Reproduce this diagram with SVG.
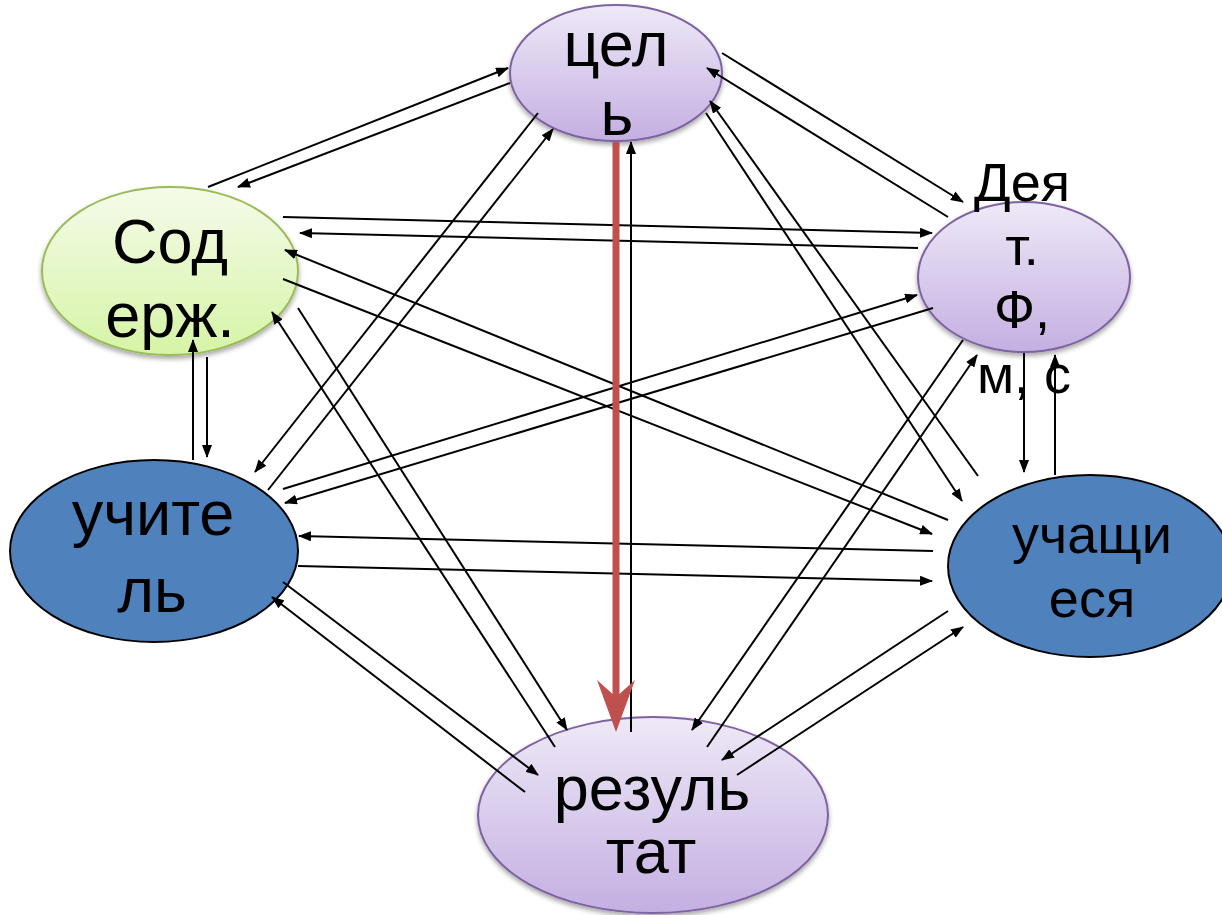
<svg xmlns="http://www.w3.org/2000/svg" width="1222" height="915" viewBox="0 0 1222 915">
<defs>
<linearGradient id="gPurple" x1="0" y1="0" x2="0" y2="1">
<stop offset="0" stop-color="#eee9f7"/>
<stop offset="1" stop-color="#c4afe2"/>
</linearGradient>
<linearGradient id="gGreen" x1="0" y1="0" x2="0" y2="1">
<stop offset="0" stop-color="#f5fbea"/>
<stop offset="1" stop-color="#d6f4a6"/>
</linearGradient>
<filter id="sh" x="-10%" y="-10%" width="120%" height="130%">
<feGaussianBlur in="SourceAlpha" stdDeviation="2.5"/>
<feOffset dx="0" dy="3" result="b"/>
<feComponentTransfer><feFuncA type="linear" slope="0.35"/></feComponentTransfer>
<feMerge><feMergeNode/><feMergeNode in="SourceGraphic"/></feMerge>
</filter>
<marker id="ah" markerWidth="13" markerHeight="10" refX="12" refY="5" orient="auto" markerUnits="userSpaceOnUse">
<path d="M0,0 L13,5 L0,10 z" fill="#000"/>
</marker>
</defs>
<style>
.purple{fill:url(#gPurple);stroke:#7e63a1;stroke-width:2;filter:url(#sh)}
.green{fill:url(#gGreen);stroke:#9bbb59;stroke-width:2;filter:url(#sh)}
.blue{fill:#4f81bd;stroke:#000;stroke-width:2}
.t{font-family:"Liberation Sans",Arial,sans-serif;fill:#000;text-anchor:middle}
.big{font-size:63px}
.small{font-size:54px}
.c{stroke:#000;stroke-width:2;fill:none}
.a{marker-end:url(#ah)}
</style>
<rect width="1222" height="915" fill="#fff"/>

<g id="node-tsel">
<ellipse class="purple" cx="616" cy="73" rx="106" ry="68"/>
<text class="t big" x="616" y="66">цел</text>
<text class="t big" x="617" y="135">ь</text>
</g>

<g id="node-soderzh">
<ellipse class="green" cx="170" cy="271" rx="128" ry="84"/>
<text class="t big" x="170" y="263">Сод</text>
<text class="t big" x="170" y="337">ерж.</text>
</g>

<g id="node-deyat">
<ellipse class="purple" cx="1024" cy="277" rx="106" ry="75"/>
<text class="t small" x="1022" y="201">Дея</text>
<text class="t small" x="1022" y="265">т.</text>
<text class="t small" x="1022" y="328">Ф,</text>
<text class="t small" x="1024" y="393">м, с</text>
</g>

<g id="node-uchitel">
<ellipse class="blue" cx="154" cy="551" rx="144" ry="91"/>
<text class="t big" x="153" y="535">учите</text>
<text class="t big" x="152" y="612">ль</text>
</g>

<g id="node-uchashchiesya">
<ellipse class="blue" cx="1090" cy="566" rx="142" ry="91"/>
<text class="t small" x="1092" y="553">учащи</text>
<text class="t small" x="1092" y="617">еся</text>
</g>

<g id="node-rezultat">
<ellipse class="purple" cx="653" cy="815" rx="175" ry="98"/>
<text class="t big" x="652" y="810">резуль</text>
<text class="t big" x="651" y="873">тат</text>
</g>

<g id="connectors">
<!-- цель - Содерж -->
<line class="c a" x1="208" y1="187" x2="508" y2="68"/>
<line class="c a" x1="510" y1="83" x2="238" y2="187"/>
<!-- цель - Деят -->
<line class="c a" x1="722" y1="53" x2="963" y2="202"/>
<line class="c a" x1="948" y1="217" x2="707" y2="68"/>
<!-- цель - учащиеся -->
<line class="c a" x1="978" y1="476" x2="710" y2="101"/>
<line class="c a" x1="706" y1="113" x2="962" y2="501"/>
<!-- цель - учитель -->
<line class="c a" x1="538" y1="113" x2="255" y2="472"/>
<line class="c a" x1="268" y1="490" x2="553" y2="129"/>
<!-- цель - результат -->
<line class="c a" x1="631" y1="732" x2="631" y2="142"/>
<!-- Содерж - Деят -->
<line class="c a" x1="283" y1="217" x2="932" y2="233"/>
<line class="c a" x1="918" y1="248" x2="300" y2="233"/>
<!-- Содерж - учащиеся -->
<line class="c a" x1="948" y1="520" x2="285" y2="250"/>
<line class="c a" x1="283" y1="279" x2="932" y2="534"/>
<!-- Содерж - результат -->
<line class="c a" x1="298" y1="308" x2="567" y2="730"/>
<line class="c a" x1="555" y1="747" x2="272" y2="312"/>
<!-- Содерж - учитель -->
<line class="c a" x1="193" y1="460" x2="193" y2="340"/>
<line class="c a" x1="207" y1="357" x2="207" y2="457"/>
<!-- Деят - учитель -->
<line class="c a" x1="283" y1="489" x2="917" y2="295"/>
<line class="c a" x1="933" y1="308" x2="285" y2="503"/>
<!-- Деят - учащиеся -->
<line class="c a" x1="1024" y1="353" x2="1024" y2="472"/>
<line class="c a" x1="1055" y1="475" x2="1055" y2="355"/>
<!-- Деят - результат -->
<line class="c a" x1="963" y1="340" x2="692" y2="730"/>
<line class="c a" x1="707" y1="747" x2="977" y2="355"/>
<!-- учитель - учащиеся -->
<line class="c a" x1="933" y1="551" x2="299" y2="536"/>
<line class="c a" x1="298" y1="566" x2="932" y2="581"/>
<!-- учитель - результат -->
<line class="c a" x1="283" y1="582" x2="538" y2="775"/>
<line class="c a" x1="525" y1="792" x2="272" y2="597"/>
<!-- учащиеся - результат -->
<line class="c a" x1="948" y1="611" x2="722" y2="760"/>
<line class="c a" x1="737" y1="775" x2="963" y2="627"/>
<!-- red main arrow цель -> результат -->
<line x1="616" y1="142" x2="616" y2="700" stroke="#c0504d" stroke-width="7"/>
<path d="M597,680 L616,697 L635,680 L616,732 Z" fill="#c0504d"/>
</g>
</svg>
